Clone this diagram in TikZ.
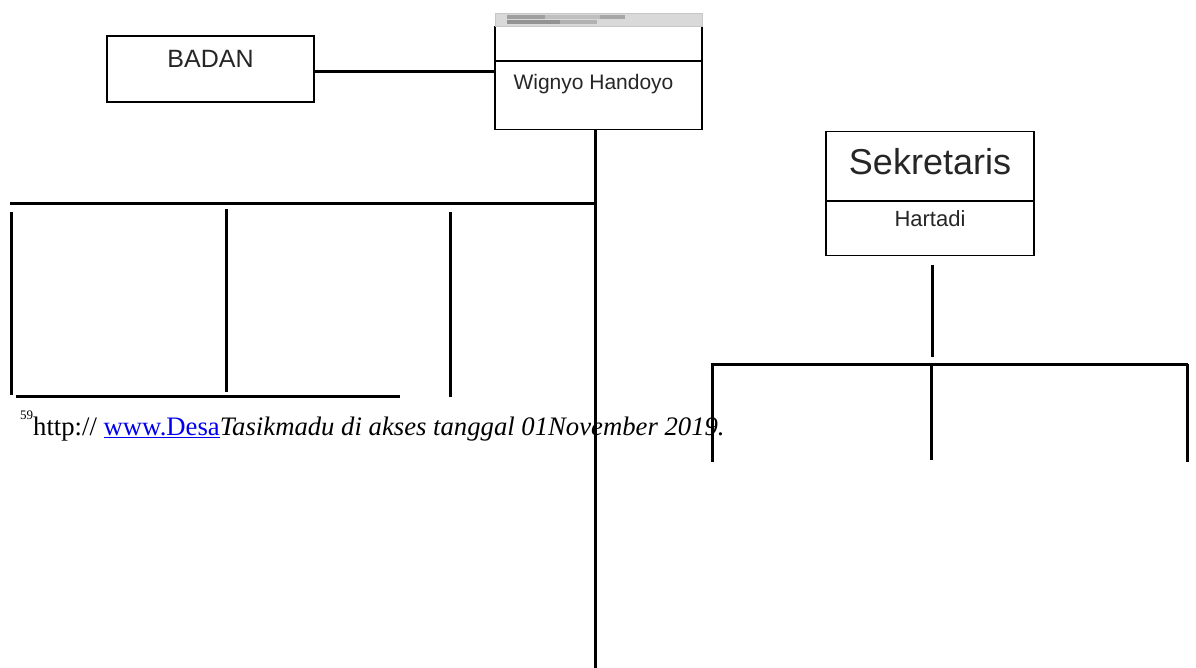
\documentclass[tikz,border=0pt]{standalone}
\usepackage{fontspec}
\setmainfont{Liberation Serif}
\newfontfamily\arialf{Liberation Sans}
\definecolor{linkblue}{RGB}{0,0,238}
\tikzset{
  box/.style={draw=black, line width=1.8pt, fill=white, inner sep=0pt},
  conn/.style={draw=black, line width=3pt},
  lbl/.style={inner sep=0pt, anchor=base, text=black!85},
}
\begin{document}
\begin{tikzpicture}[x=1pt, y=-1pt]
\useasboundingbox (0,0) rectangle (1196,668);

% ---- boxes
\node[box, minimum width=207pt, minimum height=66pt] (badan) at (210.5,69) {};
\node[lbl, font=\arialf\fontsize{25}{30}\selectfont] (badantext) at (210.5,68) {BADAN};

\node[box, minimum width=207pt, minimum height=103pt] (kepala) at (598.5,78) {};
\draw[line width=1.8pt] (kepala.west |- 0,61) coordinate (kdl) -- (kepala.east |- 0,61) coordinate (kdr);
\node[fill=gray!30, draw=gray!45, line width=0.8pt, minimum width=207pt, minimum height=13pt, inner sep=0pt] (strip) at (598.5,20) {};
\fill[gray!75] (507,15.5) rectangle (545,19);
\fill[gray!50] (545,15.5) rectangle (600,19);
\fill[gray!70] (600,15.5) rectangle (625,19);
\fill[gray!30] (625,15.5) rectangle (637,19);
\fill[gray!85] (507,20.5) rectangle (560,24);
\fill[gray!60] (560,20.5) rectangle (597,24);
\node[lbl, font=\arialf\fontsize{21}{25}\selectfont] (kepalatext) at (593.5,90) {Wignyo Handoyo};

\node[box, minimum width=208pt, minimum height=124pt] (sek) at (930,193.5) {};
\draw[line width=1.8pt] (sek.west |- 0,201) coordinate (sdl) -- (sek.east |- 0,201) coordinate (sdr);
\node[lbl, font=\arialf\fontsize{36}{42}\selectfont] (sektitle) at (930,175) {Sekretaris};
\node[lbl, font=\arialf\fontsize{22}{26}\selectfont] (sekname) at (930,227) {Hartadi};

% ---- connectors, main
\coordinate (kbot) at (595,130);
\coordinate (kend) at (595,668);
\coordinate (bconn) at (314,72);
\draw[conn] (bconn) -- (bconn -| kepala.west);
\draw[conn] (kbot) -- (kend);

% left branch
\coordinate (lh1) at (10,204);
\coordinate (lh2) at (595,204);
\draw[conn] (lh1) -- (lh2);
\coordinate (lv1a) at (11,212);  \coordinate (lv1b) at (11,395);
\coordinate (lv2a) at (226,209); \coordinate (lv2b) at (226,392);
\coordinate (lv3a) at (450,212); \coordinate (lv3b) at (450,397);
\draw[conn] (lv1a) -- (lv1b);
\draw[conn] (lv2a) -- (lv2b);
\draw[conn] (lv3a) -- (lv3b);
\coordinate (lb1) at (16,396); \coordinate (lb2) at (400,396);
\draw[conn] (lb1) -- (lb2);

% right branch
\coordinate (sa) at (932,265); \coordinate (sb) at (932,357);
\draw[conn] (sa) -- (sb);
\coordinate (rh1) at (711,364); \coordinate (rh2) at (1188,364);
\draw[conn] (rh1) -- (rh2);
\coordinate (rv1b) at (712,462);
\coordinate (rv2b) at (931,460);
\coordinate (rv3b) at (1187,462);
\draw[conn] (rh1 -| rv1b) -- (rv1b);
\draw[conn] (rh1 -| rv2b) -- (rv2b);
\draw[conn] (rh1 -| rv3b) -- (rv3b);

% ---- footnote
\node[inner sep=0pt, anchor=base west, font=\fontsize{26.7}{30}\selectfont] (foot) at (20,435)
 {\raisebox{16pt}{\fontsize{13}{13}\selectfont 59}http:// \textcolor{linkblue}{\underline{www.Desa}}\textit{Tasikmadu di akses tanggal 01November 2019.}};
\end{tikzpicture}
\end{document}
